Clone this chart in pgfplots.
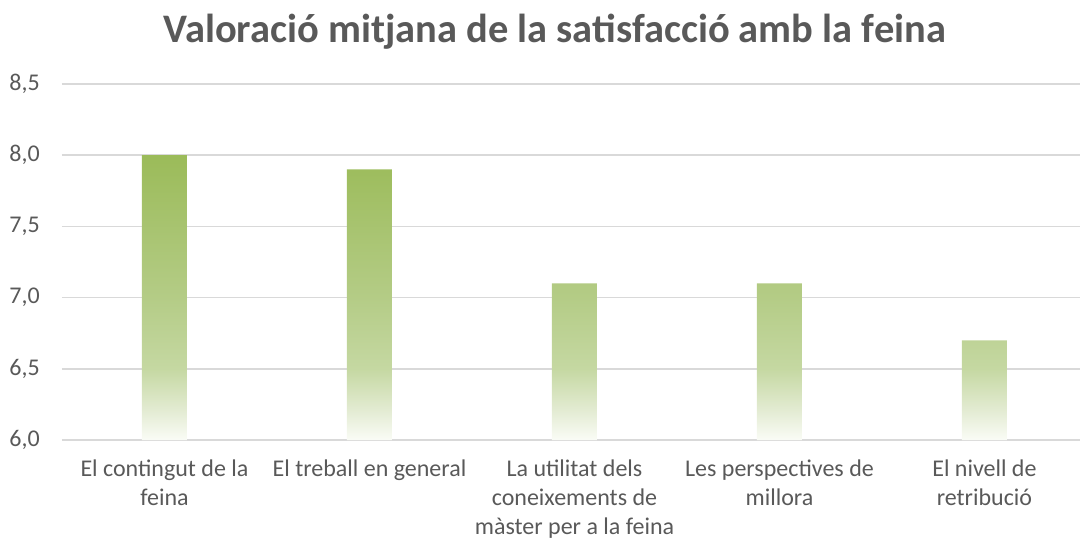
\documentclass[border=0pt]{standalone}
\usepackage{fontspec}
\setmainfont{Carlito}
\usepackage{pgfplots}
\pgfplotsset{compat=1.18}
\definecolor{txt}{HTML}{595959}
\definecolor{gridc}{HTML}{D9D9D9}
\definecolor{gtop}{RGB}{155,187,89}
\definecolor{g3}{RGB}{180,204,134}
\definecolor{g2}{RGB}{197,216,162}
\definecolor{g1}{RGB}{228,236,212}
\definecolor{g0}{RGB}{250,252,246}
\pgfdeclareverticalshading{barfade}{100bp}{color(0bp)=(g0); color(25bp)=(g0); color(30bp)=(g1); color(37.5bp)=(g2); color(50bp)=(g3); color(75bp)=(gtop); color(100bp)=(gtop)}
\begin{document}
\begin{tikzpicture}
\useasboundingbox (0,0) rectangle (1080pt,542pt);
\begin{axis}[
  at={(62pt,102pt)}, anchor=south west,
  scale only axis, width=1018pt, height=356pt,
  xmin=-0.5, xmax=4.466,
  ymin=6, ymax=8.5,
  y coord trafo/.code={\pgfmathparse{#1-6}},
  y coord inv trafo/.code={\pgfmathparse{#1+6}},
  ytick={6,6.5,7,7.5,8,8.5},
  xtick={0,1,2,3,4},
  xticklabels={{El contingut de la\\feina},{El treball en general},{La utilitat dels\\coneixements de\\màster per a la feina},{Les perspectives de\\millora},{El nivell de\\retribució}},
  axis line style={draw=none},
  major tick length=0pt,
  tick style={draw=none},
  ymajorgrids,
  grid style={gridc, line width=1.5pt},
  /pgf/number format/.cd, use comma, fixed, fixed zerofill, precision=1, assume math mode=true,
  /pgfplots/.cd,
  yticklabel style={font=\fontsize{24}{28}\selectfont, text=txt, inner sep=0pt, anchor=east, xshift=-22pt},
  xticklabel style={font=\fontsize{24}{29}\selectfont, text=txt, inner sep=0pt, anchor=north, align=center, yshift=-20pt},
  title={Valoració mitjana de la satisfacció amb la feina},
  title style={font=\fontsize{40.5}{44}\selectfont\bfseries, text=txt, at={(0.484,1.10)}, anchor=base, inner sep=0pt},
  clip=false,
]
\addplot[ybar, bar width=45pt, draw=none, shading=barfade] coordinates {(0,8.0) (1,7.9) (2,7.1) (3,7.1) (4,6.7)};
\end{axis}
\end{tikzpicture}
\end{document}
